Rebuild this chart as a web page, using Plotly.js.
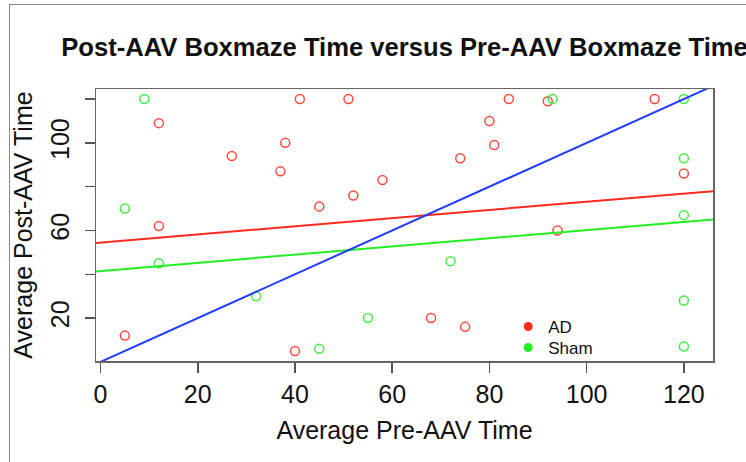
<!DOCTYPE html>
<html><head><meta charset="utf-8">
<script src="https://cdn.plot.ly/plotly-3.0.1.min.js"></script>
<style>
html,body{margin:0;padding:0;background:#fff;}
#wrap{position:relative;width:746px;height:462px;overflow:hidden;}
#frame{position:absolute;left:9px;top:4px;width:800px;height:500px;border-left:1.5px solid #888;border-top:1.5px solid #888;pointer-events:none;}
</style>
</head><body>
<div id="wrap"><div id="chart" style="width:746px;height:462px"></div><div id="frame"></div></div>
<script>
// AD group: pre-AAV vs post-AAV average times
const adPre  = [5, 12, 12, 27, 37, 38, 40, 41, 45, 51, 52, 58, 68, 74, 75, 80, 81, 84, 92, 94, 114, 120];
const adPost = [12, 109, 62, 94, 87, 100, 5, 120, 71, 120, 76, 83, 20, 93, 16, 110, 99, 120, 119, 60, 120, 86];
// Sham group
const shamPre  = [5, 9, 12, 32, 45, 55, 72, 93, 120, 120, 120, 120, 120];
const shamPost = [70, 120, 45, 30, 6, 20, 46, 120, 120, 93, 67, 28, 7];
// fitted lines [intercept, slope]
const adFit = [54.5, 0.186];
const shamFit = [41.5, 0.187];
const refLine = [0, 1];
const xRange = [-0.94, 126];
const yRange = [0.4, 124.6];
const xTicks = [0, 20, 40, 60, 80, 100, 120];
const yTicks = [20, 40, 60, 80, 100, 120];
const yTickText = ['20', '', '60', '', '100', ''];
const legendNames = ['AD', 'Sham'];

const RED = '#ff2a1f', GREEN = '#22ee22', BLUE = '#1f3cff';
const FONT = 'Liberation Sans, Arial, sans-serif';

function lineTrace(fit, color) {
  return {
    x: xRange, y: xRange.map(v => fit[0] + fit[1] * v),
    mode: 'lines', line: {color: color, width: 2}, showlegend: false, hoverinfo: 'skip'
  };
}

const traces = [
  {x: adPre, y: adPost, mode: 'markers', showlegend: false,
   marker: {symbol: 'circle-open', size: 9, color: '#ff4a3d', line: {width: 1.5}}},
  {x: shamPre, y: shamPost, mode: 'markers', showlegend: false,
   marker: {symbol: 'circle-open', size: 9, color: '#44ee44', line: {width: 1.5}}},
  lineTrace(adFit, RED),
  lineTrace(shamFit, GREEN),
  lineTrace(refLine, BLUE),
  {x: [null], y: [null], mode: 'markers', name: legendNames[0], legend: 'legend',
   marker: {symbol: 'circle', size: 9, color: RED}},
  {x: [null], y: [null], mode: 'markers', name: legendNames[1], legend: 'legend2',
   marker: {symbol: 'circle', size: 9, color: GREEN}}
];

const axisCommon = {
  showgrid: false, zeroline: false, showline: true, mirror: true,
  linecolor: '#666', linewidth: 1.5, ticks: 'outside', ticklen: 10, tickwidth: 1.5, tickcolor: '#555',
  tickfont: {family: FONT, size: 25, color: '#111'}
};

const legendCommon = {xanchor: 'left', yanchor: 'middle', bgcolor: 'rgba(0,0,0,0)',
  font: {family: FONT, size: 17, color: '#111'}, itemwidth: 30};

const layout = {
  width: 746, height: 462,
  margin: {l: 96, r: 33, t: 89, b: 101},
  paper_bgcolor: '#fff', plot_bgcolor: '#fff',
  font: {family: FONT, color: '#111'},
  title: {text: 'Post-AAV Boxmaze Time versus Pre-AAV Boxmaze Time', xref: 'paper', x: 0.5, xanchor: 'center',
          yref: 'container', y: 1 - 47 / 462, yanchor: 'middle',
          font: {family: FONT, size: 25.6, weight: 'bold', color: '#111'}},
  xaxis: Object.assign({}, axisCommon, {
    range: xRange, tickvals: xTicks,
    title: {text: 'Average Pre-AAV Time', font: {family: FONT, size: 25, color: '#111'}, standoff: 15}
  }),
  yaxis: Object.assign({}, axisCommon, {
    range: yRange, tickvals: yTicks, ticktext: yTickText, tickangle: -90, ticklabelstandoff: 6,
    title: {text: 'Average Post-AAV Time', font: {family: FONT, size: 25, color: '#111'}, standoff: 6}
  }),
  legend: Object.assign({}, legendCommon, {x: 0.668, y: 0.125}),
  legend2: Object.assign({}, legendCommon, {x: 0.668, y: 0.048}),
  showlegend: true
};

Plotly.newPlot('chart', traces, layout, {displayModeBar: false, staticPlot: true});
</script>
</body></html>
